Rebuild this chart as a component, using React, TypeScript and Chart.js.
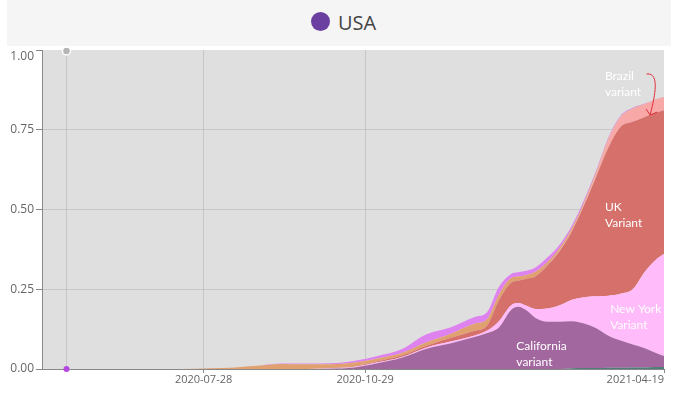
import React, { useEffect, useRef } from 'react';
import { Chart, registerables } from 'chart.js';

Chart.register(...registerables);

const dates = ['2020-04-26','2020-07-15','2020-08-01','2020-08-15','2020-08-28','2020-09-11','2020-09-25','2020-10-09','2020-10-23','2020-11-05','2020-11-19','2020-12-03','2020-12-17','2020-12-31','2021-01-07','2021-01-14','2021-01-21','2021-01-25','2021-01-30','2021-02-04','2021-02-11','2021-02-18','2021-02-25','2021-03-04','2021-03-11','2021-03-18','2021-03-25','2021-04-01','2021-04-08','2021-04-14','2021-04-19'];

const otherBottom = [0,0,0,0,0,0,0,0,0,0,0,0,0,0,0,0,0,0,0,0,0,0,0.002,0.003,0.003,0.004,0.004,0.005,0.005,0.006,0.006];
const california = [0,0,0,0,0,0,0,0.001,0.005,0.018,0.035,0.063,0.08,0.1,0.112,0.13,0.185,0.195,0.183,0.16,0.148,0.148,0.148,0.14,0.125,0.1,0.085,0.072,0.06,0.045,0.035];
const newYork = [0,0,0,0,0,0,0,0.001,0.002,0.003,0.003,0.004,0.006,0.005,0.008,0.02,0.015,0.012,0.015,0.028,0.042,0.052,0.067,0.082,0.1,0.126,0.147,0.173,0.24,0.29,0.32];
const ukVariant = [0,0,0,0,0,0,0,0.001,0.001,0.003,0.004,0.005,0.011,0.015,0.015,0.065,0.07,0.07,0.085,0.102,0.135,0.17,0.215,0.288,0.375,0.464,0.523,0.525,0.485,0.462,0.45];
const brazil = [0,0,0,0,0,0,0,0,0,0,0,0,0,0,0,0,0,0,0,0,0.001,0.002,0.003,0.005,0.01,0.025,0.03,0.04,0.04,0.041,0.04];
const otherOrange = [0,0,0.002,0.005,0.01,0.016,0.015,0.012,0.012,0.009,0.008,0.011,0.013,0.022,0.02,0.018,0.015,0.013,0.012,0.015,0.01,0.008,0.007,0.005,0.005,0.003,0.002,0.002,0.001,0.001,0.001];
const otherMagenta = [0,0,0,0,0,0.001,0.002,0.003,0.006,0.008,0.012,0.025,0.02,0.021,0.022,0.025,0.013,0.013,0.013,0.013,0.014,0.01,0.008,0.007,0.005,0.004,0.003,0.002,0.001,0.001,0.001];

const xMinDate = '2020-04-26';
const xMaxDate = '2021-04-19';
const tickDates = ['2020-07-28', '2020-10-29', '2021-04-19'];
const yTicks = [0, 0.25, 0.5, 0.75, 1];
const cursorDate = '2020-05-10';

const annotations = [
  { date: '2021-03-16', value: 0.918, lines: ['Brazil', 'variant'] },
  { date: '2021-03-16', value: 0.509, lines: ['UK', 'Variant'] },
  { date: '2021-03-19', value: 0.189, lines: ['New York', 'Variant'] },
  { date: '2021-01-24', value: 0.072, lines: ['California', 'variant'] },
];
const arrowStart = { date: '2021-04-09', value: 0.925 };
const arrowEnd = { date: '2021-04-11', value: 0.796 };

const day = (s: string) => {
  const [y, m, d] = s.split('-').map(Number);
  return Date.UTC(y, m - 1, d) / 86400000;
};
const fmt = (v: number) => new Date(Math.round(v) * 86400000).toISOString().slice(0, 10);

const series = [
  { name: 'Other', values: otherBottom, color: '#4f7d78' },
  { name: 'California variant', values: california, color: '#a3679f' },
  { name: 'New York variant', values: newYork, color: '#ffbbfa' },
  { name: 'UK variant', values: ukVariant, color: '#d6706a' },
  { name: 'Brazil variant', values: brazil, color: '#f9a8a8' },
  { name: 'Other B', values: otherOrange, color: '#e0a070' },
  { name: 'Other C', values: otherMagenta, color: '#de82f0' },
];

const decor = {
  id: 'decor',
  beforeDraw(chart: any) {
    const { ctx, chartArea: a } = chart;
    ctx.save();
    ctx.fillStyle = '#dfdfdf';
    ctx.fillRect(a.left, a.top, a.right - a.left, a.bottom - a.top);
    ctx.restore();
  },
  afterDraw(chart: any) {
    const { ctx, chartArea: a } = chart;
    const x = chart.scales.x;
    const y = chart.scales.y;
    ctx.save();
    // cursor
    const cx = Math.round(x.getPixelForValue(day(cursorDate))) + 0.5;
    const yTop = y.getPixelForValue(1);
    const yBot = y.getPixelForValue(0);
    ctx.strokeStyle = 'rgba(0,0,0,0.1)';
    ctx.lineWidth = 1;
    ctx.beginPath();
    ctx.moveTo(cx, yTop);
    ctx.lineTo(cx, yBot);
    ctx.stroke();
    ctx.beginPath();
    ctx.arc(cx, yTop + 1, 4, 0, Math.PI * 2);
    ctx.fillStyle = '#b4b4b4';
    ctx.fill();
    ctx.strokeStyle = '#ffffff';
    ctx.lineWidth = 1.5;
    ctx.stroke();
    ctx.beginPath();
    ctx.arc(cx, yBot, 3, 0, Math.PI * 2);
    ctx.fillStyle = '#b548e0';
    ctx.fill();

    // annotations
    ctx.fillStyle = '#ffffff';
    ctx.font = '12px Lato';
    ctx.textAlign = 'left';
    ctx.textBaseline = 'middle';
    annotations.forEach((an) => {
      const px = x.getPixelForValue(day(an.date));
      const py = y.getPixelForValue(an.value);
      an.lines.forEach((l, i) => ctx.fillText(l, px, py + i * 16));
    });

    // arrow
    const sx = x.getPixelForValue(day(arrowStart.date));
    const sy = y.getPixelForValue(arrowStart.value);
    const ex = x.getPixelForValue(day(arrowEnd.date));
    const ey = y.getPixelForValue(arrowEnd.value);
    ctx.strokeStyle = '#e0303a';
    ctx.lineWidth = 1;
    ctx.beginPath();
    ctx.moveTo(sx, sy);
    ctx.bezierCurveTo(sx + 10, sy - 1, ex + 8, ey - 30, ex, ey);
    ctx.stroke();
    ctx.beginPath();
    ctx.moveTo(ex - 4, ey - 6);
    ctx.lineTo(ex, ey);
    ctx.lineTo(ex + 7, ey - 3);
    ctx.stroke();

    // top tick label
    ctx.fillStyle = '#666666';
    ctx.font = '12px "Open Sans"';
    ctx.textAlign = 'right';
    ctx.textBaseline = 'middle';
    ctx.fillText((1).toFixed(2), a.left - 8, yTop + 6.5);
    ctx.restore();
  },
};

export default function App() {
  const ref = useRef<HTMLCanvasElement | null>(null);
  useEffect(() => {
    if (!ref.current) return;
    const xMin = day(xMinDate);
    const xMax = day(xMaxDate);
    const xs = dates.map(day);
    const chart = new Chart(ref.current, {
      type: 'line',
      data: {
        datasets: series.map((s, i) => ({
          label: s.name,
          data: s.values.map((v, j) => ({ x: xs[j], y: v })),
          backgroundColor: s.color,
          borderColor: 'rgba(0,0,0,0)',
          borderWidth: 0,
          pointRadius: 0,
          fill: i === 0 ? 'origin' : '-1',
          cubicInterpolationMode: 'monotone',
        })),
      },
      options: {
        animation: false,
        responsive: false,
        maintainAspectRatio: false,
        layout: { padding: { top: 50, right: 15, left: 0, bottom: 0 } },
        plugins: { legend: { display: false }, tooltip: { enabled: false } },
        scales: {
          x: {
            type: 'linear',
            min: xMin,
            max: xMax,
            z: 1,
            afterBuildTicks: (s: any) => {
              s.ticks = [{ value: xMin }, ...tickDates.map((d) => ({ value: day(d) }))];
            },
            afterFit: (s: any) => { s.height = 24; },
            ticks: {
              autoSkip: false,
              maxRotation: 0,
              minRotation: 0,
              align: 'inner',
              padding: 0,
              color: '#666666',
              font: { family: 'Open Sans', size: 11 },
              callback: (v: any) => (v === xMin ? '' : fmt(v)),
            },
            grid: {
              color: (c: any) => (c.tick && (c.tick.value === xMin || c.tick.value === xMax) ? 'rgba(0,0,0,0)' : 'rgba(0,0,0,0.1)'),
              tickColor: (c: any) => (c.tick && c.tick.value === xMin ? 'rgba(0,0,0,0)' : '#888888'),
              tickLength: 4,
            },
            border: { color: '#888888' },
          },
          y: {
            stacked: true,
            min: 0,
            max: 1,
            z: 1,
            afterBuildTicks: (s: any) => {
              s.ticks = yTicks.map((v) => ({ value: v }));
            },
            afterFit: (s: any) => { s.width = 42; },
            ticks: {
              padding: 2,
              color: '#666666',
              font: { family: 'Open Sans', size: 12 },
              callback: (v: any) => (v === 1 ? '' : Number(v).toFixed(2)),
            },
            grid: {
              color: (c: any) => (c.tick && (c.tick.value === 1 || c.tick.value === 0) ? 'rgba(0,0,0,0)' : 'rgba(0,0,0,0.1)'),
              tickColor: '#888888',
              tickLength: 6,
            },
            border: { color: '#888888' },
          },
        },
      } as any,
      plugins: [decor],
    });
    return () => chart.destroy();
  }, []);

  return (
    <div style={{ position: 'fixed', left: 0, top: 0, width: 679, height: 393, background: '#ffffff' }}>
      <div style={{ position: 'absolute', left: 7, top: 0, width: 664, height: 46, background: '#f5f5f5' }} />
      <div style={{ position: 'absolute', left: 311, top: 12, width: 19, height: 19, borderRadius: '50%', background: '#6b3fa0' }} />
      <div style={{ position: 'absolute', left: 338, top: 13, fontFamily: '"Open Sans"', fontSize: 20, lineHeight: '20px', color: '#444444', whiteSpace: 'nowrap' }}>USA</div>
      <canvas ref={ref} width={679} height={393} style={{ position: 'absolute', left: 0, top: 0, width: 679, height: 393 }} />
    </div>
  );
}
